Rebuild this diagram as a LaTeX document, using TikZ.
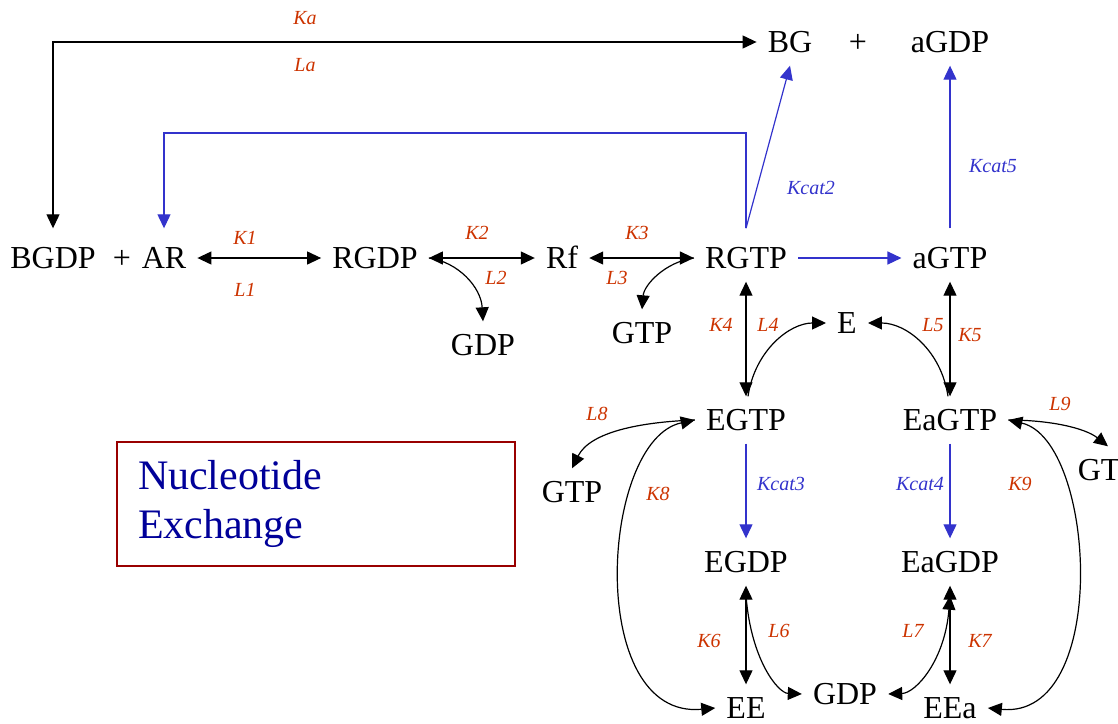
\documentclass[tikz,border=0pt]{standalone}
\usepackage{fontspec}
\setmainfont{Liberation Serif}
\usetikzlibrary{arrows.meta}
\definecolor{lblred}{HTML}{CC3300}
\definecolor{lblblue}{HTML}{3333CC}
\definecolor{arblue}{HTML}{3333CC}
\definecolor{boxred}{HTML}{990000}
\definecolor{txtblue}{HTML}{000099}
\begin{document}
\begin{tikzpicture}[x=1pt,y=-1pt,
  sp/.style={font=\fontsize{32}{36}\selectfont, inner xsep=11pt, inner ysep=13pt, text height=21pt, text depth=0pt},
  lr/.style={font=\fontsize{20}{24}\selectfont\itshape, text=lblred, inner sep=0pt},
  lb/.style={lr, text=lblblue},
  tip/.tip={Triangle[length=14pt,width=13pt]},
  ar/.style={line width=1.2pt, -tip},
  dar/.style={line width=1.2pt, tip-tip},
  bar/.style={line width=1.2pt, draw=arblue, -tip},
  ln/.style={line width=1.2pt}
]
\useasboundingbox (0,0) rectangle (1118,723);
% species
\node[sp] (BGDP) at (53,258) {BGDP};
\node[sp] (plusA) at (122,258) {+};
\node[sp] (AR) at (164,258) {AR};
\node[sp] (RGDP) at (375,258) {RGDP};
\node[sp] (Rf) at (562,258) {Rf};
\node[sp] (RGTP) at (746,258) {RGTP};
\node[sp] (aGTP) at (950,258) {aGTP};
\node[sp] (BG) at (790,42) {BG};
\node[sp] (plusB) at (858,42) {+};
\node[sp] (aGDP) at (950,42) {aGDP};
\node[sp] (GDPa) at (483,345) {GDP};
\node[sp] (GTPa) at (642,333) {GTP};
\node[sp] (E) at (847,323) {E};
\node[sp] (EGTP) at (746,420) {EGTP};
\node[sp] (EaGTP) at (950,420) {EaGTP};
\node[sp] (GTPb) at (572,492) {GTP};
\node[sp] (GTPc) at (1108,470) {GTP};
\node[sp] (EGDP) at (746,562) {EGDP};
\node[sp] (EaGDP) at (950,562) {EaGDP};
\node[sp] (EE) at (746,708) {EE};
\node[sp] (GDPc) at (845,694) {GDP};
\node[sp] (EEa) at (950,708) {EEa};
% box
\node[draw=boxred, line width=2pt, minimum width=398pt, minimum height=124pt, anchor=north west,
      inner xsep=21pt, text width=356pt, align=left, text=txtblue,
      font=\fontsize{42}{51}\selectfont] (box) at (116,441) {Nucleotide\\[-2pt]Exchange};
% helper coordinates
\coordinate (bluetop) at (0,133);
% top black connector
\draw[dar] ([yshift=6pt]BGDP.north) |- (BG.west);
% blue connectors
\draw[bar] ([yshift=6pt]RGTP.north) -- (RGTP.north |- bluetop) -| ([yshift=6pt]AR.north);
\draw[bar] ([yshift=6pt]RGTP.north) -- (BG.south);
\draw[bar] ([yshift=6pt]aGTP.north) -- (aGDP.south);
\draw[bar] (RGTP.east) -- (aGTP.west);
\draw[bar] (EGTP.south) -- (EGDP.north);
\draw[bar] (EaGTP.south) -- (EaGDP.north);
% black double arrows
\draw[dar] (AR.east) -- (RGDP.west);
\draw[dar] (RGDP.east) -- (Rf.west);
\draw[dar] (Rf.east) -- (RGTP.west);
\draw[dar] (RGTP.south) -- (EGTP.north);
\draw[dar] (aGTP.south) -- (EaGTP.north);
\draw[dar] (EGDP.south) -- (EE.north);
\draw[dar] (EaGDP.south) -- (EEa.north);
% curves
\draw[ar] (RGDP.east) .. controls (458,262) and (481,287) .. (GDPa.north);
\draw[ar] (RGTP.west) .. controls (665,262) and (644,285) .. (GTPa.north);
\draw[ar] ([xshift=2pt]EGTP.north) .. controls (755,350) and (790,323) .. (E.west);
\draw[ar] ([xshift=-2pt]EaGTP.north) .. controls (941,350) and (906,323) .. (E.east);
\draw[ar] (EGTP.west) .. controls (640,422) and (590,432) .. (GTPb.north);
\draw[dar] (EGTP.west) .. controls (600,440) and (585,720) .. (EE.west);
\draw[ar] (EaGTP.east) .. controls (1050,420) and (1085,428) .. (GTPc.north);
\draw[dar] (EaGTP.east) .. controls (1096,440) and (1111,720) .. (EEa.east);
\draw[ar] ([yshift=-10pt]EGDP.south) .. controls (751,660) and (778,693) .. (GDPc.west);
\draw[dar] ([yshift=-10pt]EaGDP.south) .. controls (945,660) and (916,693) .. (GDPc.east);
% labels
\node[lr] (Ka) at (305,18) {Ka};
\node[lr] (La) at (305,65) {La};
\node[lr] (K1) at (245,238) {K1};
\node[lr] (L1) at (245,290) {L1};
\node[lr] (K2) at (477,233) {K2};
\node[lr] (L2) at (496,278) {L2};
\node[lr] (K3) at (637,233) {K3};
\node[lr] (L3) at (617,278) {L3};
\node[lb] (Kc2) at (811,188) {Kcat2};
\node[lb] (Kc5) at (993,166) {Kcat5};
\node[lr] (K4) at (721,325) {K4};
\node[lr] (L4) at (768,325) {L4};
\node[lr] (L5) at (933,325) {L5};
\node[lr] (K5) at (970,335) {K5};
\node[lr] (L8) at (597,414) {L8};
\node[lr] (L9) at (1060,404) {L9};
\node[lb] (Kc3) at (781,484) {Kcat3};
\node[lb] (Kc4) at (920,484) {Kcat4};
\node[lr] (K8) at (658,494) {K8};
\node[lr] (K9) at (1020,484) {K9};
\node[lr] (K6) at (709,641) {K6};
\node[lr] (L6) at (779,631) {L6};
\node[lr] (L7) at (913,631) {L7};
\node[lr] (K7) at (980,641) {K7};
\end{tikzpicture}
\end{document}
